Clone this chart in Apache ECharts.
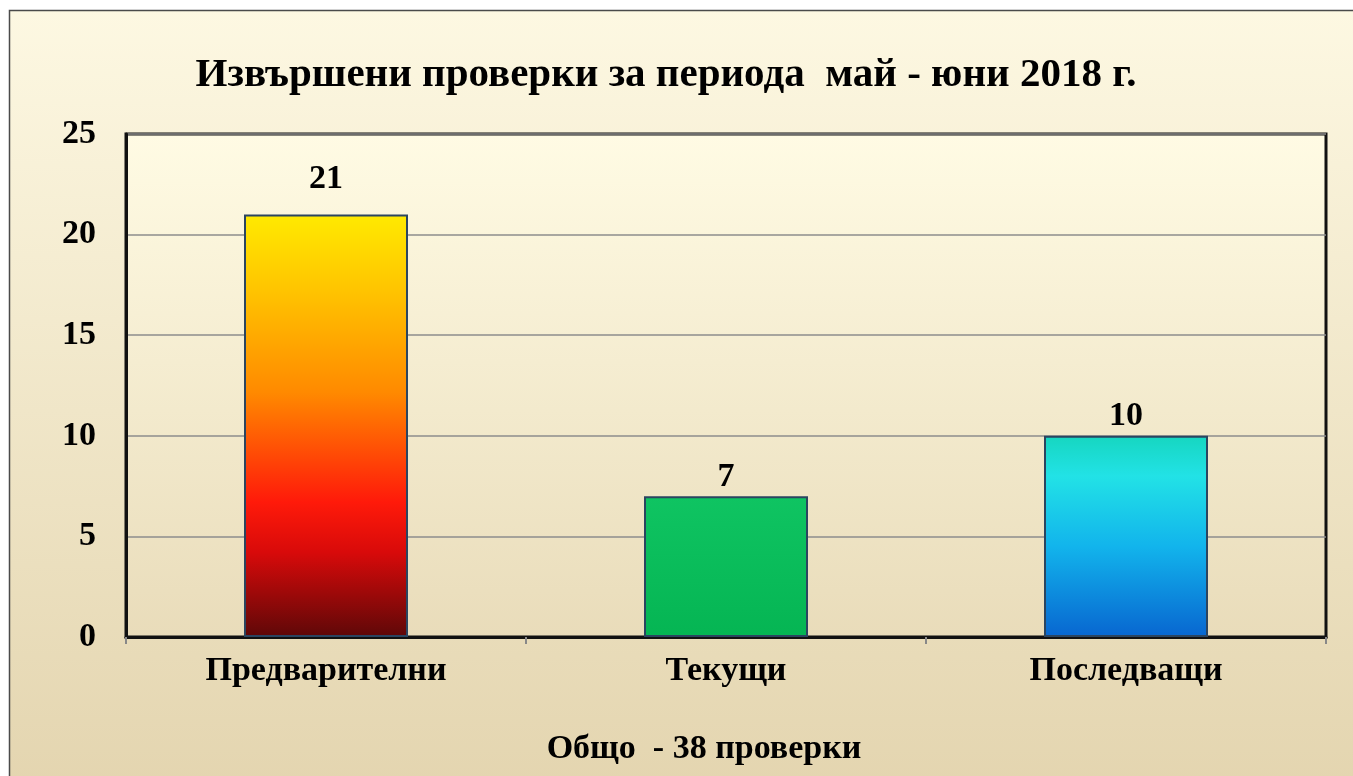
<!DOCTYPE html>
<html>
<head>
<meta charset="utf-8">
<script src="https://cdn.jsdelivr.net/npm/echarts@6/dist/echarts.min.js"></script>
<style>
  html, body { margin: 0; padding: 0; background: #fff; }
  #main { width: 1353px; height: 776px; }
</style>
</head>
<body>
<div id="main"></div>
<script>
// данни от графиката
const categories = ['Предварителни', 'Текущи', 'Последващи']
const checks = [21, 7, 10]
const yTicks = [0, 5, 10, 15, 20, 25]
const titleText = 'Извършени проверки за периода  май - юни 2018 г.'
const totalText = 'Общо  - 38 проверки'

const serif = '"Liberation Serif", "DejaVu Serif", serif'

const grad = (stops) => new echarts.graphic.LinearGradient(0, 0, 0, 1,
  stops.map(s => ({ offset: s[0], color: s[1] })))

// цветове на стълбовете
const barColors = [
  grad([[0, '#ffea00'], [0.18, '#ffc400'], [0.42, '#ff8a00'], [0.68, '#ff1a0a'], [0.8, '#d80a0a'], [1, '#5e0808']]),
  grad([[0, '#0fc462'], [1, '#05b553']]),
  grad([[0, '#16d6c0'], [0.2, '#22e2e6'], [0.55, '#12b4ec'], [1, '#0866d0']])
]
const labelGap = [18, 2, 3]

const chart = echarts.init(document.getElementById('main'))

chart.setOption({
  backgroundColor: '#ffffff',
  animation: false,
  graphic: [
    {
      type: 'rect',
      z: -10,
      shape: { x: 9.5, y: 10.5, width: 1400, height: 800 },
      style: {
        fill: grad([[0, '#fdf8e2'], [1, '#e3d4ae']]),
        stroke: '#4a4a4a',
        lineWidth: 1.5
      }
    },
    {
      type: 'text',
      x: 704,
      y: 749,
      style: {
        text: totalText,
        font: 'bold 34px ' + serif,
        fill: '#000',
        align: 'center',
        verticalAlign: 'middle'
      }
    }
  ],
  title: {
    text: titleText,
    left: 661,
    top: 50,
    textAlign: 'center',
    textStyle: {
      fontFamily: serif,
      fontWeight: 'bold',
      fontSize: 41,
      color: '#000'
    }
  },
  grid: {
    left: 126,
    top: 134,
    right: 27,
    bottom: 139,
    show: true,
    backgroundColor: grad([[0, '#fffbe4'], [1, '#e9dcba']]),
    borderColor: '#111',
    borderWidth: 3,
    containLabel: false
  },
  xAxis: {
    type: 'category',
    data: categories,
    axisLine: { lineStyle: { color: '#111', width: 3 } },
    axisTick: { show: true, length: 7, lineStyle: { color: '#888', width: 2 } },
    axisLabel: {
      margin: 17,
      fontFamily: serif,
      fontWeight: 'bold',
      fontSize: 34,
      color: '#000'
    }
  },
  yAxis: {
    type: 'value',
    min: 0,
    max: yTicks[yTicks.length - 1],
    interval: yTicks[1] - yTicks[0],
    axisLine: { show: true, lineStyle: { color: '#111', width: 3 } },
    axisTick: { show: false },
    splitLine: { lineStyle: { color: '#8c8c8c', width: 1.5 } },
    axisLabel: {
      margin: 30,
      fontFamily: serif,
      fontWeight: 'bold',
      fontSize: 34,
      color: '#000'
    }
  },
  series: [
    {
      type: 'bar',
      barWidth: 164,
      data: checks.map((v, i) => ({
        value: v,
        itemStyle: { color: barColors[i] },
        label: { distance: labelGap[i] }
      })),
      itemStyle: {
        borderColor: '#2b4560',
        borderWidth: 2
      },
      label: {
        show: true,
        position: 'top',
        fontFamily: serif,
        fontWeight: 'bold',
        fontSize: 34,
        color: '#000'
      }
    }
  ]
})
</script>
</body>
</html>
